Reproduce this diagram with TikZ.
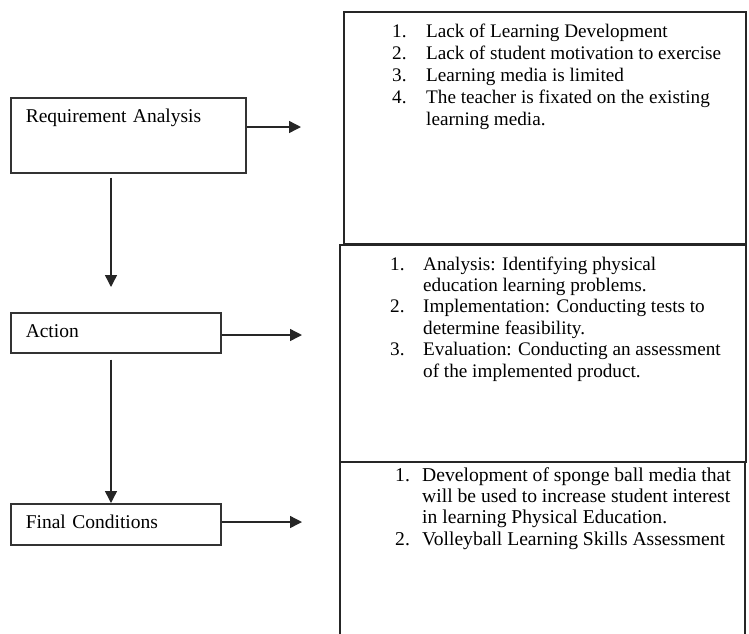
\documentclass[tikz,border=0pt]{standalone}
\usepackage{fontspec}
\setmainfont{Liberation Serif}
\usetikzlibrary{arrows.meta}

\tikzstyle{stage} = [rectangle, draw=black!80, line width=1.5pt, anchor=north west,
inner xsep=15pt, inner ysep=0pt, text height=25pt, align=left,
font=\fontsize{19.5}{22}\selectfont]
\tikzstyle{detail} = [rectangle, draw=black!85, line width=1.6pt, anchor=north west,
inner sep=0pt]
\tikzstyle{items} = [anchor=base west, inner sep=0pt,
font=\fontsize{19.2}{21.4}\selectfont]
\tikzstyle{flow} = [draw=black!85, line width=1.4pt, -{Triangle[length=12pt,width=12pt]}]

\begin{document}
\begin{tikzpicture}[x=1pt, y=-1pt]
	\path[use as bounding box, clip] (0,0) rectangle (749,633);

	%Nodes
	\node [stage, text width=205pt, text depth=50pt] (ra) at (10,97) {Requirement Analysis};
	\node [stage, text width=180pt, text depth=15pt] (act) at (10,312) {Action};
	\node [stage, text width=180pt, text depth=16pt] (fin) at (10,503) {Final Conditions};

	\node [detail, minimum width=402pt, minimum height=232pt] (prob) at (343,11) {};
	\node [detail, minimum width=406pt, minimum height=217pt] (steps) at (339,244) {};
	\node [detail, minimum width=405pt, minimum height=200pt] (result) at (339,461) {};

	\node [items, font=\fontsize{19.2}{22}\selectfont] (prob-list) at (392,37) {%
	\begin{tabular}[t]{@{}p{34pt}@{}l@{}}
	1. & Lack of Learning Development\\
	2. & Lack of student motivation to exercise\\
	3. & Learning media is limited\\
	4. & The teacher is fixated on the existing\\
	   & learning media.
	\end{tabular}};

	\node [items] (steps-list) at (390,270) {%
	\begin{tabular}[t]{@{}p{33pt}@{}l@{}}
	1. & Analysis: Identifying physical\\
	   & education learning problems.\\
	2. & Implementation: Conducting tests to\\
	   & determine feasibility.\\
	3. & Evaluation: Conducting an assessment\\
	   & of the implemented product.
	\end{tabular}};

	\node [items, font=\fontsize{19.6}{21.4}\selectfont] (result-list) at (395,481) {%
	\begin{tabular}[t]{@{}p{27pt}@{}l@{}}
	1. & Development of sponge ball media that\\
	   & will be used to increase student interest\\
	   & in learning Physical Education.\\
	2. & Volleyball Learning Skills Assessment
	\end{tabular}};

	%Lines
	\coordinate (ra-out) at (301,127);
	\coordinate (act-out) at (302,335);
	\coordinate (fin-out) at (302,522);
	\coordinate (ra-down) at (111,287);

	\path [flow] (ra.east |- ra-out) -- (ra-out);
	\path [flow] (act.east |- act-out) -- (act-out);
	\path [flow] (fin.east |- fin-out) -- (fin-out);
	\path [flow, shorten <=4pt] (ra.south -| ra-down) -- (ra-down);
	\path [flow, shorten <=6pt] (act.south -| ra-down) -- (fin.north -| ra-down);
\end{tikzpicture}
\end{document}
